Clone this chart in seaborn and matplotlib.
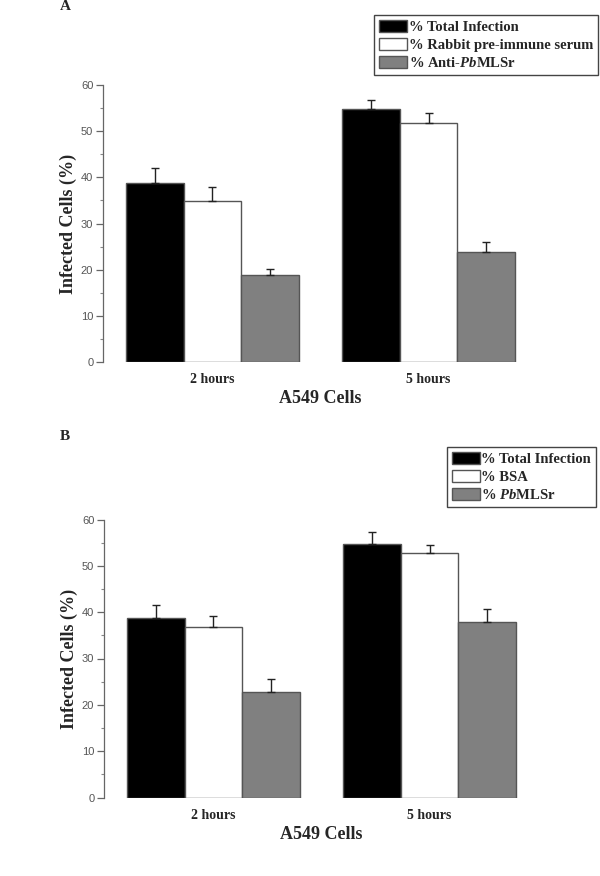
import pandas as pd
import matplotlib
matplotlib.use('Agg')
import matplotlib.pyplot as plt
from matplotlib.ticker import MultipleLocator
import seaborn as sns

# data
times = ['2 hours', '5 hours']

labels_a = ['% Total Infection', '% Rabbit pre-immune serum', r'% Anti-$\mathit{Pb}$MLSr']
total_a = [38.8, 54.8]
total_a_err = [3.3, 2.0]
rabbit_a = [34.8, 51.7]
rabbit_a_err = [3.0, 2.3]
anti_a = [18.8, 23.8]
anti_a_err = [1.4, 2.1]

labels_b = ['% Total Infection', '% BSA', r'% $\mathit{Pb}$MLSr']
total_b = [38.8, 54.8]
total_b_err = [2.8, 2.6]
bsa_b = [36.9, 52.8]
bsa_b_err = [2.3, 1.7]
pb_b = [22.8, 37.8]
pb_b_err = [2.8, 2.8]

colors = ['#000000', '#ffffff', '#808080']

sns.set_style('white')
plt.rcParams['font.family'] = ['Liberation Serif', 'DejaVu Serif']
plt.rcParams['mathtext.fontset'] = 'custom'
plt.rcParams['mathtext.rm'] = 'Liberation Serif:bold'
plt.rcParams['mathtext.it'] = 'Liberation Serif:italic:bold'


def make_df(labels, series):
    rows = []
    for lab, vals in zip(labels, series):
        for t, v in zip(times, vals):
            rows.append({'time': t, 'group': lab, 'value': v})
    return pd.DataFrame(rows)


def panel(ax, labels, series, errs, legend_anchor):
    df = make_df(labels, series)
    sns.barplot(data=df, x='time', y='value', hue='group', hue_order=labels,
                palette=colors, edgecolor='#555555', linewidth=1.0,
                errorbar=None, width=0.8, ax=ax)
    for cont, err in zip(ax.containers, errs):
        xs = [p.get_x() + p.get_width() / 2 for p in cont.patches]
        hs = [p.get_height() for p in cont.patches]
        ax.errorbar(xs, hs, yerr=[[0] * len(err), err], fmt='none',
                    ecolor='#222222', elinewidth=1.0, capsize=3, capthick=1.0)
    ax.set_ylim(0, 60)
    ax.set_xlim(-0.506, 1.506)
    ax.yaxis.set_major_locator(MultipleLocator(10))
    ax.yaxis.set_minor_locator(MultipleLocator(5))
    for s in ['top', 'right', 'bottom']:
        ax.spines[s].set_visible(False)
    ax.spines['left'].set_color('#666666')
    ax.spines['left'].set_linewidth(0.9)
    ax.tick_params(axis='y', which='major', length=5, width=0.9, color='#666666',
                   left=True, labelsize=8, labelcolor='#555555', pad=2)
    ax.tick_params(axis='y', which='minor', length=2.5, width=0.8, color='#888888', left=True)
    ax.tick_params(axis='x', length=0, pad=8)
    for t in ax.get_yticklabels():
        t.set_fontfamily('Liberation Sans')
    for t in ax.get_xticklabels():
        t.set_fontweight('bold')
        t.set_fontsize(10)
    ax.set_xlabel('A549 Cells', fontsize=13, fontweight='bold', labelpad=3)
    ax.set_ylabel('Infected Cells (%)', fontsize=13, fontweight='bold', labelpad=3)
    handles, labs = ax.get_legend_handles_labels()
    ax.legend(handles, labs, loc='upper right', bbox_to_anchor=legend_anchor,
              bbox_transform=ax.figure.transFigure, frameon=True, fancybox=False,
              edgecolor='#444444', framealpha=1, borderpad=0.35, labelspacing=0.25,
              handlelength=1.9, handleheight=0.9, handletextpad=0.1, borderaxespad=0,
              prop={'family': 'Liberation Serif', 'weight': 'bold', 'size': 10.5})
    ax.get_legend().get_frame().set_linewidth(1.0)


fig = plt.figure(figsize=(6, 8.76), dpi=100)
ax_a = fig.add_axes([103 / 600, 1 - 362 / 876, 435 / 600, 277 / 876])
ax_b = fig.add_axes([104 / 600, 1 - 797.5 / 876, 435 / 600, 278 / 876])

panel(ax_a, labels_a, [total_a, rabbit_a, anti_a],
      [total_a_err, rabbit_a_err, anti_a_err], (598 / 600, 1 - 15 / 876))
panel(ax_b, labels_b, [total_b, bsa_b, pb_b],
      [total_b_err, bsa_b_err, pb_b_err], (596 / 600, 1 - 447 / 876))

fig.text(65 / 600, 1 - 7 / 876, 'A', fontsize=11, fontweight='bold', ha='center', va='center')
fig.text(65 / 600, 1 - 437 / 876, 'B', fontsize=11, fontweight='bold', ha='center', va='center')

plt.savefig('out.png', dpi=100)
